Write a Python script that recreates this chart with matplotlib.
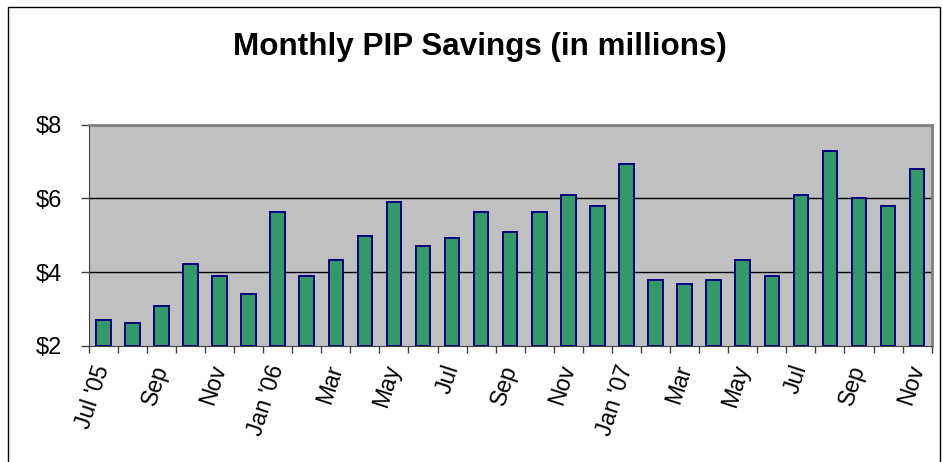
import matplotlib
matplotlib.use("Agg")
import matplotlib.pyplot as plt
from matplotlib.patches import Rectangle
import numpy as np

# monthly savings, Jul 2005 - Nov 2007 (millions of dollars)
months = ["Jul '05", "Aug", "Sep", "Oct", "Nov", "Dec",
          "Jan '06", "Feb", "Mar", "Apr", "May", "Jun",
          "Jul", "Aug", "Sep", "Oct", "Nov", "Dec",
          "Jan '07", "Feb", "Mar", "Apr", "May", "Jun",
          "Jul", "Aug", "Sep", "Oct", "Nov"]
savings = [2.71, 2.61, 3.09, 4.22, 3.90, 3.42,
           5.62, 3.90, 4.33, 4.97, 5.89, 4.71,
           4.93, 5.62, 5.08, 5.62, 6.10, 5.78,
           6.92, 3.79, 3.68, 3.79, 4.33, 3.90,
           6.10, 7.29, 6.00, 5.78, 6.80]
yticks = [2, 4, 6, 8]

plt.rcParams['font.family'] = ['Liberation Sans', 'DejaVu Sans']

fig = plt.figure(figsize=(9.43, 4.62), dpi=100)
ax = fig.add_axes([88.7 / 943, 1 - 346 / 462, (931.7 - 88.7) / 943, (346 - 124.5) / 462])

x = np.arange(len(months))
ax.bar(x, [v - 2 for v in savings], bottom=2, width=0.5,
       color='#339966', edgecolor='#000080', linewidth=1.4, zorder=3)

ax.set_xlim(-0.5, len(months) - 0.5)
ax.set_ylim(2, 8)
ax.set_facecolor('#C0C0C0')

ax.set_yticks(yticks)
ax.set_yticklabels(['$%d' % t for t in yticks], fontsize=17)
ax.tick_params(axis='y', direction='out', length=6, width=1, color='#404040', pad=13)
for t in yticks[1:-1]:
    ax.axhline(t, color='black', linewidth=1, zorder=1)

ax.set_xticks(x[::2])
ax.set_xticklabels(months[::2], fontsize=16.5, rotation=72,
                   ha='right', va='center', rotation_mode='anchor')
ax.tick_params(axis='x', which='major', length=0, pad=14)
ax.set_xticks(np.arange(-0.5, len(months)), minor=True)
ax.tick_params(axis='x', which='minor', direction='out', length=5, width=1, color='#404040')

ax.spines['top'].set_color('#808080')
ax.spines['right'].set_color('#808080')
ax.spines['top'].set_linewidth(2)
ax.spines['right'].set_linewidth(2)
ax.spines['left'].set_color('#404040')
ax.spines['bottom'].set_color('#404040')

fig.text(480 / 943, 1 - 47 / 462, 'Monthly PIP Savings (in millions)',
         fontsize=22.6, fontweight='bold', ha='center', va='center')

# chart frame
fig.patches.append(Rectangle((8 / 943, -0.1), (940 - 8) / 943, 1.1 - 7 / 462,
                             transform=fig.transFigure, fill=False,
                             edgecolor='black', linewidth=1))

fig.savefig('out.png', dpi=100)
